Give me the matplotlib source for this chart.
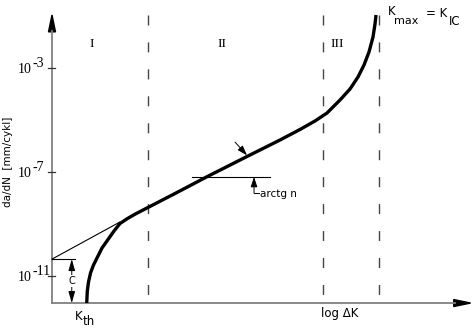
import matplotlib
matplotlib.use("Agg")
import matplotlib.pyplot as plt

# x: log dK (arbitrary units), y: log10(da/dN)
curve_x = [1.335, 1.358, 1.404, 1.481, 1.596, 1.75, 1.923, 2.154, 2.385, 2.615, 2.885,
           3.192, 3.577, 4.077, 4.731, 5.962, 7.5, 8.769, 9.538, 10.115, 10.577, 11.077,
           11.462, 11.769, 12.0, 12.192, 12.346, 12.423, 12.462]
curve_y = [-12.038, -11.577, -11.231, -10.885, -10.577, -10.269, -9.923, -9.596, -9.269,
           -8.981, -8.8, -8.623, -8.423, -8.165, -7.827, -7.181, -6.404, -5.769, -5.365,
           -5.038, -4.731, -4.231, -3.808, -3.346, -2.885, -2.385, -1.808, -1.308, -0.962]

paris_x = [0.0, 2.6]
paris_y = [-10.35, -8.93]

region_x = [3.69, 10.42, 12.58]
region_labels = ["I", "II", "III"]
region_label_x = [1.54, 6.54, 10.96]

yticks = [-3, -7, -11]
ytick_exp = ["-3", "-7", "-11"]

log_C = -10.35
x_bottom, y_bottom = 0.0, -12.04
x_end, y_top = 16.1, -0.96

fig = plt.figure(figsize=(4.71, 3.29), dpi=100)
ax = fig.add_axes([0, 0, 1, 1])
ax.set_xlim(-2.0, 16.115)
ax.set_ylim(-13.038, -0.385)
ax.axis("off")

gray = "#808080"
u = 1 / 26  # one pixel in data units

# axes
ax.plot([x_bottom, x_bottom], [y_bottom, y_top - 0.6], color=gray, lw=1.3)
ax.plot([x_bottom, x_end - 0.6], [y_bottom, y_bottom], color=gray, lw=1.3)
ax.fill([x_bottom - 3.5 * u, x_bottom + 3.5 * u, x_bottom],
        [y_top - 0.65, y_top - 0.65, y_top], color="black")
ax.fill([x_end - 0.65, x_end - 0.65, x_end],
        [y_bottom + 3.5 * u, y_bottom - 3.5 * u, y_bottom], color="black")

# y ticks
for t, e in zip(yticks, ytick_exp):
    ax.plot([x_bottom - 4 * u, x_bottom + 3 * u], [t, t], color="#333333", lw=0.9)
    ax.text(x_bottom - 34 * u, t - 0.04, "10", family="Liberation Serif", fontsize=10,
            ha="left", va="center")
    ax.text(x_bottom - 20 * u, t + 0.17, e, family="Liberation Serif", fontsize=10,
            ha="left", va="center")

ax.text(-1.69, -6.62, "da/dN  [mm/cykl]", rotation=90, fontsize=7.5, ha="center", va="center")

# region dividers
for xr in region_x:
    ax.plot([xr, xr], [y_top, y_bottom], color="#444444", lw=1, dashes=(7.2, 12.2))
for lab, xl in zip(region_labels, region_label_x):
    ax.text(xl, -2.08, lab, family="Liberation Serif", fontsize=9.5, ha="center", va="center")

# Paris tangent and curve
ax.plot(paris_x, paris_y, color="black", lw=0.8)
ax.plot(curve_x, curve_y, color="black", lw=2.4, solid_capstyle="butt")

# C dimension
ax.plot([x_bottom, 0.88], [log_C, log_C], color="black", lw=0.8)
ax.annotate("", xy=(0.76, log_C), xytext=(0.76, y_bottom),
            arrowprops=dict(arrowstyle="<|-|>,head_length=0.7,head_width=0.2", color="black", lw=0.7,
                            shrinkA=0, shrinkB=0))
ax.text(0.76, (log_C + y_bottom) / 2, "C", fontsize=7, ha="center", va="center",
        bbox=dict(facecolor="white", edgecolor="none", pad=0.5))

# slope marker
ax.plot([5.38, 8.38], [-7.19, -7.19], color="black", lw=0.8)
ax.annotate("", xy=(7.77, -7.19), xytext=(7.77, -7.81),
            arrowprops=dict(arrowstyle="-|>,head_length=0.6,head_width=0.2", color="black", lw=0.7,
                            shrinkA=0, shrinkB=0))
ax.plot([7.77, 7.96], [-7.81, -7.81], color="black", lw=0.7)
ax.text(8.0, -7.86, "arctg n", fontsize=7.5, ha="left", va="center")
ax.annotate("", xy=(7.5, -6.36), xytext=(7.04, -5.85),
            arrowprops=dict(arrowstyle="-|>,head_length=0.6,head_width=0.2", color="black", lw=0.7,
                            shrinkA=0, shrinkB=0))

# labels
ax.text(1.02, -12.54, "K", fontsize=8.5, ha="center", va="center")
ax.text(1.42, -12.74, "th", fontsize=8.5, ha="center", va="center")
ax.text(11.08, -12.44, "log ΔK", fontsize=8.5, ha="center", va="center")
ax.text(12.92, -0.81, "K", fontsize=8.5, ha="left", va="center")
ax.text(13.17, -1.19, "max", fontsize=8, ha="left", va="center")
ax.text(14.38, -0.9, "= K", fontsize=8.5, ha="left", va="center")
ax.text(15.25, -1.23, "IC", fontsize=8.5, ha="left", va="center")

fig.savefig("out.png", dpi=100)
